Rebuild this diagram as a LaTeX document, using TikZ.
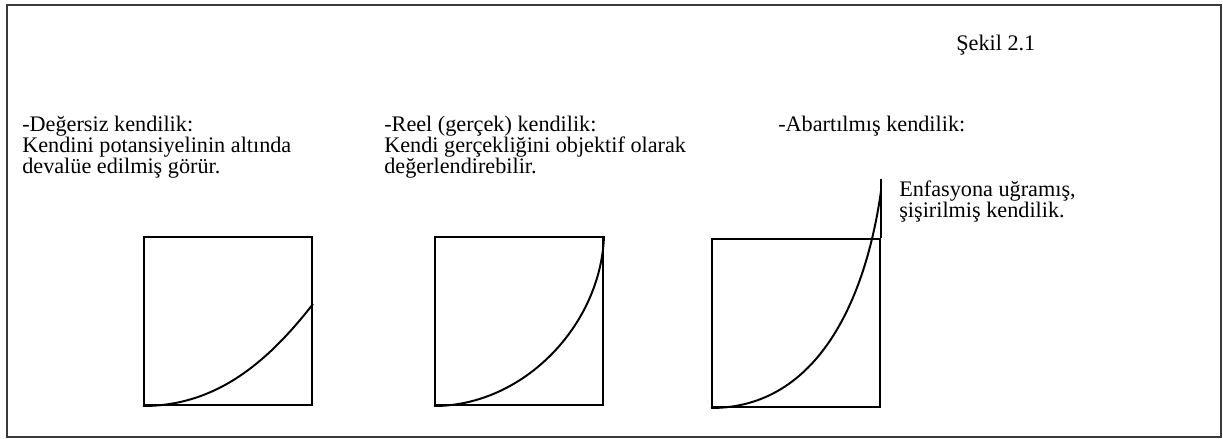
\documentclass[tikz,border=0pt]{standalone}
\usepackage{fontspec}
\setmainfont{Liberation Serif}
\usetikzlibrary{calc}
\definecolor{Ink}{HTML}{000000}
\definecolor{Frame}{HTML}{3A3A3A}
\tikzset{
  framebox/.style={draw=Frame,line width=1.1pt},
  squarebox/.style={draw=Ink,line width=1.4pt,minimum size=4.2cm,inner sep=0pt},
  curve/.style={draw=Ink,line width=1.4pt},
  label/.style={anchor=base west,inner sep=0pt,align=left,font=\fontsize{15.8}{15.1}\selectfont,text=Ink}
}
\begin{document}
\begin{tikzpicture}[x=0.025cm,y=-0.025cm]
  \useasboundingbox (0,0) rectangle (1223,439);
  \draw[framebox] (7,5) rectangle (1221,437);
  % texts (base = last line)
  \node[label] (fig) at (956,51) {Şekil 2.1};
  \node[label] (low) at (22,174) {-Değersiz kendilik:\\Kendini potansiyelinin altında\\devalüe edilmiş görür.};
  \node[label] (real) at (384,174) {-Reel (gerçek) kendilik:\\Kendi gerçekliğini objektif olarak\\değerlendirebilir.};
  \node[label] (high) at (778,132) {-Abartılmış kendilik:};
  \node[label] (infl) at (899,218) {Enfasyona uğramış,\\şişirilmiş kendilik.};
  % squares
  \node[squarebox] (sq1) at (228,321) {};
  \node[squarebox] (sq2) at (519,321) {};
  \node[squarebox] (sq3) at (796,323) {};
  \coordinate (top1) at ($(sq1.south east)+(0,-102)$);
  \coordinate (top3) at ($(sq3.north east)+(0,-47)$);
  \coordinate (tip3) at ($(sq3.north east)+(0,-59)$);
  % curves
  \draw[curve] (sq1.south west) to[out=0,in=232,looseness=0.95] (top1);
  \draw[curve] (sq2.south west) to[out=0,in=-92,looseness=0.95] (sq2.north east);
  \draw[curve] (sq3.south west) to[out=0,in=-98,looseness=1.0] (top3);
  \draw[curve] (sq3.north east) -- (tip3);
\end{tikzpicture}
\end{document}
